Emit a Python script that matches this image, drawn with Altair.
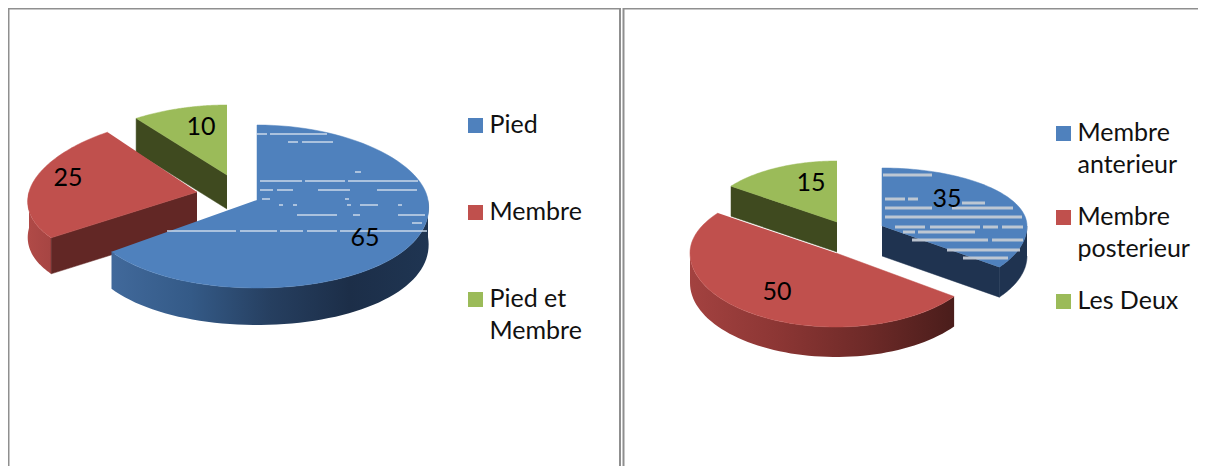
import math
import altair as alt
import pandas as pd

# ---- data
left_labels = ["Pied", "Membre", "Pied et Membre"]
left_values = [65, 25, 10]
right_labels = ["Membre anterieur", "Membre posterieur", "Les Deux"]
right_values = [35, 50, 15]
BLUE, RED, GREEN = "#4f81bd", "#c0504d", "#9bbb59"

X0, X1, Y0, Y1 = 8, 1198, 8, 466
sx = alt.Scale(domain=[X0, X1], nice=False, zero=False)
sy = alt.Scale(domain=[Y1, Y0], nice=False, zero=False)


def grad(*stops):
    n = len(stops) - 1
    return alt.LinearGradient(
        gradient="linear", x1=0, x2=1, y1=0, y2=0,
        stops=[alt.GradientStop(offset=i / n, color=c) for i, c in enumerate(stops)],
    )


def point(a, g):
    cx, cy, rx, ru, rd, k = g
    s, c = math.sin(math.radians(a)), math.cos(math.radians(a))
    dy = -c * (ru if c > 0 else rd)
    return cx + s * rx * (1 + k * dy), cy + dy


def poly(pts, fill):
    df = pd.DataFrame([{"x": p[0], "y": p[1], "seq": i} for i, p in enumerate(pts)])
    if isinstance(fill, str):
        mark = alt.Chart(df).mark_line(fill=fill, stroke=fill, strokeWidth=0.5)
    else:
        mark = alt.Chart(df).mark_line(fill=fill, strokeWidth=0)
    return mark.encode(
        x=alt.X("x:Q", scale=sx, axis=None),
        y=alt.Y("y:Q", scale=sy, axis=None),
        order="seq:Q",
    )


def slice_layers(a0, a1, g, depth, top, wall, cut, cut_at):
    layers = []
    lo, hi = max(a0, 90), min(a1, 270)
    if hi > lo:
        steps = [lo + (hi - lo) * i / 60 for i in range(61)]
        arc = [point(a, g) for a in steps]
        pts = arc + [(x, y + depth) for x, y in reversed(arc)]
        layers.append(poly(pts, wall))
    if cut is not None:
        ex, ey = point(cut_at, g)
        cx, cy = g[0], g[1]
        layers.append(poly([(cx, cy), (ex, ey), (ex, ey + depth), (cx, cy + depth)], cut))
    arc = [point(a0 + (a1 - a0) * i / 80, g) for i in range(81)]
    layers.append(poly([(g[0], g[1])] + arc, top))
    return layers


def angles(values):
    out, s = [], 0
    for v in values:
        out.append((s * 3.6, (s + v) * 3.6))
        s += v
    return out


la = angles(left_values)
ra = angles(right_values)

layers = []
# left pie: green, red, blue
layers += slice_layers(*la[2], (227, 175, 170, 70, 80, 0.0016), 34, GREEN, "#3f4a1f", "#3f4a1f", la[2][0])
layers += slice_layers(*la[1], (197, 192, 168, 74, 78, 0.0016), 36, RED, grad("#b04a47", "#a64543"), "#622725", la[1][0])
layers += slice_layers(*la[0], (257, 200, 171, 75, 88, 0.001), 37, BLUE,
                       grad("#41699b", "#345a87", "#263f60", "#1c2e48", "#1f3552"), None, 0)
# right pie: green, blue, red
layers += slice_layers(*ra[2], (837, 222, 131, 61, 70, 0), 30, GREEN, "#3f4a1f", "#3f4a1f", ra[2][0])
layers += slice_layers(*ra[0], (882, 226, 145, 58, 70, 0), 30, BLUE, "#1f3350", "#1f3350", ra[0][1])
layers += slice_layers(*ra[1], (836, 253, 146, 68, 74, 0), 30, RED,
                       grad("#a34240", "#8c3634", "#6e2a28", "#4a1d1b"), None, 0)

# streaks seen on the blue slices
left_streak_y = [134, 134, 142, 142, 172, 181, 181, 181, 190, 190, 190, 190, 215, 215, 215, 223,
                 231, 231, 231, 231, 231, 205, 205, 205, 205, 205, 199, 199]
left_streak_x0 = [257, 270, 288, 302, 355, 260, 305, 348, 260, 277, 318, 377, 297, 353, 398, 412,
                  167, 240, 280, 307, 340, 279, 293, 347, 360, 398, 262, 345]
left_streak_x1 = [267, 327, 298, 333, 361, 302, 345, 418, 273, 293, 350, 417, 337, 360, 425, 422,
                  236, 277, 303, 337, 427, 283, 297, 351, 378, 402, 270, 349]
right_streak_y = [175, 199, 199, 203, 208, 208, 217, 227, 227, 227, 227, 232, 232, 240, 240, 250, 258]
right_streak_x0 = [883, 885, 908, 962, 885, 952, 885, 895, 930, 983, 1002, 903, 918, 912, 992, 947, 963]
right_streak_x1 = [932, 905, 918, 985, 932, 1013, 1022, 925, 980, 998, 1023, 915, 975, 988, 1023, 1020, 1008]

for xs, xe, ys, col, w, op in [
    (left_streak_x0, left_streak_x1, left_streak_y, "#c9d8ea", 2, 0.75),
    (right_streak_x0, right_streak_x1, right_streak_y, "#c3cad4", 3, 0.95),
]:
    sdf = pd.DataFrame({"x": xs, "x2": xe, "y": ys})
    layers.append(alt.Chart(sdf).mark_rule(strokeWidth=w, color=col, opacity=op).encode(
        x=alt.X("x:Q", scale=sx, axis=None), x2="x2:Q",
        y=alt.Y("y:Q", scale=sy, axis=None),
    ))

# frames
frame_x = [8.5, 620, 623.5]
vdf = pd.DataFrame({"x": frame_x, "y": [Y0] * 3, "y2": [Y1] * 3})
hdf = pd.DataFrame({"x": [8, 623], "x2": [620, X1], "y": [8.5, 8.5]})
layers.append(alt.Chart(vdf).mark_rule(color="#8f8f8f", strokeWidth=2).encode(
    x=alt.X("x:Q", scale=sx, axis=None), y=alt.Y("y:Q", scale=sy, axis=None), y2="y2:Q"))
layers.append(alt.Chart(hdf).mark_rule(color="#8f8f8f", strokeWidth=2).encode(
    x=alt.X("x:Q", scale=sx, axis=None), x2="x2:Q", y=alt.Y("y:Q", scale=sy, axis=None)))

# value labels
vals = pd.DataFrame({
    "t": [str(v) for v in left_values + right_values],
    "x": [365, 68, 201, 947, 777, 811],
    "y": [238, 178, 127, 199, 292, 183],
})
FONT = "Lato"
layers.append(alt.Chart(vals).mark_text(font=FONT, fontSize=25, color="#000000", baseline="middle", align="center").encode(
    x=alt.X("x:Q", scale=sx, axis=None), y=alt.Y("y:Q", scale=sy, axis=None), text="t:N"))

# legends
squares = pd.DataFrame({
    "x": [475.5] * 3 + [1063.5] * 3,
    "y": [125.5, 212.5, 299.5, 133.5, 217.5, 301.5],
    "c": [BLUE, RED, GREEN] * 2,
})
layers.append(alt.Chart(squares).mark_square(size=225, opacity=1).encode(
    x=alt.X("x:Q", scale=sx, axis=None), y=alt.Y("y:Q", scale=sy, axis=None),
    color=alt.Color("c:N", scale=None, legend=None)))
legend = pd.DataFrame({
    "t": ["Pied", "Membre", "Pied et", "Membre", "Membre", "anterieur", "Membre", "posterieur", "Les Deux"],
    "x": [489.5] * 4 + [1077.5] * 5,
    "y": [125, 212, 299, 331, 133, 165, 217, 249, 301],
})
layers.append(alt.Chart(legend).mark_text(font=FONT, fontSize=25, color="#111111", baseline="middle", align="left").encode(
    x=alt.X("x:Q", scale=sx, axis=None), y=alt.Y("y:Q", scale=sy, axis=None), text="t:N"))

chart = alt.layer(*layers).properties(
    width=X1 - X0, height=Y1 - Y0, padding=0, autosize=alt.AutoSizeParams(type="none"),
    background="#ffffff",
).configure_view(stroke=None)

chart.save("out.html", embed_options={"renderer": "svg", "actions": False})
